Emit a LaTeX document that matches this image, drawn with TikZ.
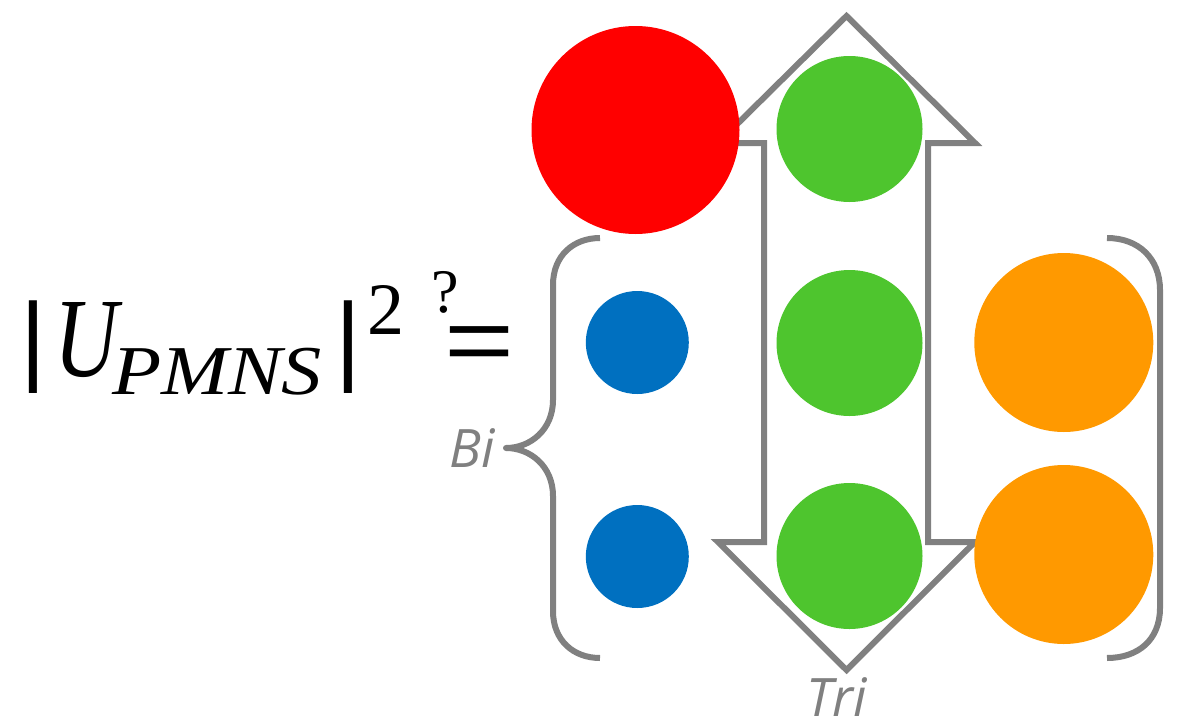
\documentclass[tikz,border=0pt]{standalone}
\usepackage{fontspec}
\setmainfont{Liberation Serif}
\newfontfamily\labelfont{Open Sans}
\newfontfamily\eqfont{Liberation Sans}
\definecolor{cgray}{HTML}{808080}
\definecolor{cred}{HTML}{FF0000}
\definecolor{cgreen}{HTML}{4EC52E}
\definecolor{cblue}{HTML}{0070C0}
\definecolor{corange}{HTML}{FF9900}
\tikzset{
  ball/.style={circle, inner sep=0pt, draw=none, fill=#1},
  graystroke/.style={draw=cgray, line width=6pt},
  txt/.style={inner sep=0pt, outer sep=0pt, text=black},
  lbl/.style={inner sep=0pt, outer sep=0pt, text=cgray, font=\labelfont\itshape\fontsize{53}{53}\selectfont},
}
\begin{document}
\begin{tikzpicture}[x=1pt,y=-1pt]
\useasboundingbox (0,0) rectangle (1183,723);
% double arrow (Tri)
\draw[graystroke, line join=miter, fill=white] (846.5,16) -- (975,143) -- (928,143) -- (928,542) -- (975,542)
  -- (846.5,670) -- (718,542) -- (764,542) -- (764,143) -- (718,143) -- cycle;
% left brace (Bi)
\coordinate (bracetip) at (506,448);
\draw[graystroke, line join=round] (600,238) .. controls (574,238) and (553,255) .. (553,285) -- (553,400)
  .. controls (553,430) and (530,448) .. (bracetip) .. controls (530,448) and (553,466) .. (553,496)
  -- (553,611) .. controls (553,641) and (574,658) .. (600,658);
% right bracket
\draw[graystroke] (1107,238) .. controls (1138,238) and (1160,258) .. (1160,290) -- (1160,608)
  .. controls (1160,640) and (1138,658) .. (1107,658);
% circles
\node[ball=cred, minimum size=208pt] (red) at (635.5,130) {};
\node[ball=cgreen, minimum size=146pt] (g1) at (849.5,129) {};
\node[ball=cgreen, minimum size=146pt] (g2) at (849.5,343) {};
\node[ball=cgreen, minimum size=146pt] (g3) at (849.5,556) {};
\node[ball=cblue, minimum size=103pt] (b1) at (637.3,342.5) {};
\node[ball=cblue, minimum size=103pt] (b2) at (637.3,556.5) {};
\node[ball=corange, minimum size=179pt] (o1) at (1063.8,342.5) {};
\node[ball=corange, minimum size=179pt] (o2) at (1063.8,554.5) {};
% formula
\node[txt, anchor=center] (bar1) at (33,347) {\eqfont\fontsize{99}{99}\selectfont |};
\node[txt, anchor=base west] (U) at (54,376) {\fontsize{113}{113}\selectfont\itshape\scalebox{0.78}[1]{U}};
\node[txt, anchor=base west] (sub) at (112,394) {\fontsize{70}{70}\selectfont\itshape\scalebox{1.15}[1]{PMNS}};
\node[txt, anchor=center] (bar2) at (348.5,347) {\eqfont\fontsize{99}{99}\selectfont |};
\node[txt, anchor=base west] (sup) at (367,334) {\fontsize{74}{74}\selectfont 2};
\node[txt, anchor=base west] (q) at (431,312) {\fontsize{62}{62}\selectfont ?};
\node[txt, anchor=center] (eq) at (479.5,350) {\eqfont\fontsize{120}{120}\selectfont\scalebox{1}[0.78]{=}};
% labels
\node[lbl, anchor=base east] (bi) at (495,467) {Bi};
\node[lbl, anchor=base west] (tri) at (806,716) {Tri};
\end{tikzpicture}
\end{document}
